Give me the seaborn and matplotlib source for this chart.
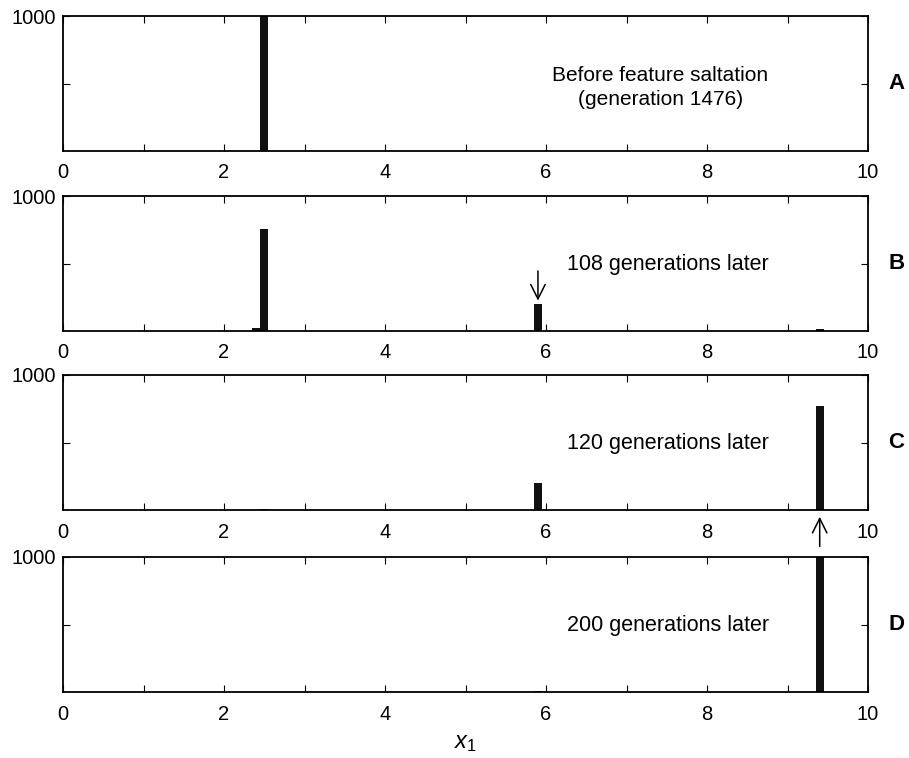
import numpy as np
import pandas as pd
import seaborn as sns
import matplotlib
matplotlib.use("Agg")
import matplotlib.pyplot as plt

# Population histograms of trait x1 (bin width 0.1, bins centred on tenths)
centers_a = [2.5]
counts_a = [1000]

centers_b = [2.4, 2.5, 5.8, 5.9, 9.4]
counts_b = [20, 755, 3, 200, 12]

centers_c = [2.5, 5.9, 9.4]
counts_c = [10, 200, 770]

centers_d = [5.9, 9.4]
counts_d = [5, 1000]

panel_letters = ["A", "B", "C", "D"]
panel_notes = ["Before feature saltation\n(generation 1476)",
               "108 generations later",
               "120 generations later",
               "200 generations later"]

x_ticks = [0, 1, 2, 3, 4, 5, 6, 7, 8, 9, 10]
x_ticklabels = ["0", "", "2", "", "4", "", "6", "", "8", "", "10"]
y_ticks = [500, 1000]
y_ticklabels = ["", "1000"]

sns.set_style("ticks")
plt.rcParams["font.family"] = ["Liberation Sans", "DejaVu Sans"]
plt.rcParams["text.color"] = "black"
plt.rcParams["mathtext.fontset"] = "custom"
plt.rcParams["mathtext.it"] = "Liberation Sans:italic"
plt.rcParams["mathtext.rm"] = "Liberation Sans"

fig = plt.figure(figsize=(9.09, 7.58), dpi=100)

W, H = 909, 758
left_px, right_px = 63, 868
tops_px = [16, 196, 375, 557]
h_px = 135

data = [(centers_a, counts_a), (centers_b, counts_b),
        (centers_c, counts_c), (centers_d, counts_d)]

axes = []
for i, (cx, cy) in enumerate(data):
    top = tops_px[i]
    ax = fig.add_axes([left_px / W, 1 - (top + h_px) / H,
                       (right_px - left_px) / W, h_px / H])
    df = pd.DataFrame({"x1": cx, "n": cy})
    sns.histplot(data=df, x="x1", weights="n", binwidth=0.1,
                 binrange=(-0.05, 10.05), ax=ax,
                 color="#111111", alpha=1, linewidth=0, edgecolor="none")
    ax.set_xlim(0, 10)
    ax.set_ylim(0, 1000)
    ax.set_xticks(x_ticks)
    ax.set_xticklabels(x_ticklabels)
    ax.set_yticks(y_ticks)
    ax.set_yticklabels(y_ticklabels)
    ax.set_xlabel("")
    ax.set_ylabel("")
    ax.tick_params(direction="in", length=5, width=0.8, top=True, right=True,
                   labelsize=14.5, colors="black")
    ax.tick_params(axis="x", pad=9)
    ax.tick_params(axis="y", pad=5)
    for s in ax.spines.values():
        s.set_visible(True)
        s.set_linewidth(1.3)
        s.set_color("black")
    ax.text(1.035, 0.5, panel_letters[i], transform=ax.transAxes,
            fontsize=16, fontweight="bold", ha="center", va="center",
            color="black")
    axes.append(ax)

axes[0].text(7.42, 0.47, panel_notes[0], transform=axes[0].get_xaxis_transform(),
             fontsize=15, ha="center", va="center", linespacing=1.3,
             color="black")
for i in (1, 2, 3):
    axes[i].text(7.52, 0.49, panel_notes[i], transform=axes[i].get_xaxis_transform(),
                 fontsize=15.5, ha="center", va="center", color="black")

# arrow marking the newly appeared cluster
axes[1].annotate("", xy=(5.9, 225), xytext=(5.9, 445),
                 arrowprops=dict(arrowstyle="->", lw=1.1, color="black",
                                 mutation_scale=26, shrinkA=0, shrinkB=0))
# arrow marking the cluster that takes over
axes[2].annotate("", xy=(9.4, -0.05), xytext=(9.4, -0.27),
                 xycoords=("data", "axes fraction"),
                 textcoords=("data", "axes fraction"),
                 arrowprops=dict(arrowstyle="->", lw=1.1, color="black",
                                 mutation_scale=26, shrinkA=0, shrinkB=0),
                 annotation_clip=False)

axes[3].set_xlabel("$x_1$", fontsize=17, labelpad=6, color="black")

fig.savefig("out.png", dpi=100)
